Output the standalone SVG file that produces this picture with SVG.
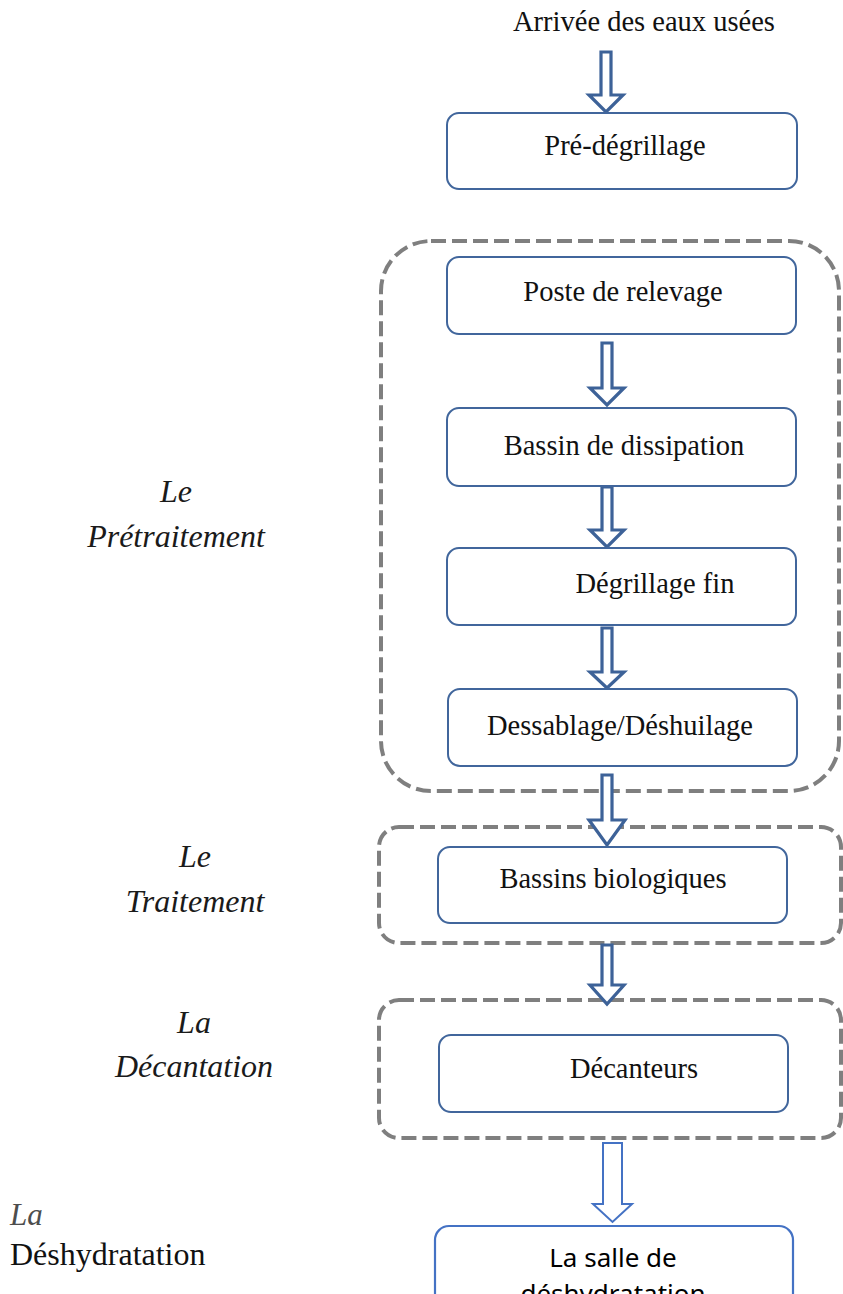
<svg xmlns="http://www.w3.org/2000/svg" width="843" height="1294" viewBox="0 0 843 1294">
<style>
.box{fill:#fff;stroke:#41669c;stroke-width:2}
.box2{fill:#fff;stroke:#4472c4;stroke-width:2.2}
.grp{fill:none;stroke:#7f7f7f;stroke-width:4;stroke-dasharray:15 6}
.arr{fill:#fff;stroke:#3d6298;stroke-width:3.2;stroke-linejoin:miter}
.arr2{fill:#fff;stroke:#4472c4;stroke-width:2}
.t{font-family:"Liberation Serif","Times New Roman",serif;font-size:28.5px;fill:#111;text-anchor:middle}
.lbl{font-family:"Liberation Serif","Times New Roman",serif;font-size:32px;font-style:italic;fill:#1a1a1a;text-anchor:middle}
.s{font-family:"Noto Sans","Open Sans",sans-serif;font-size:26px;fill:#000;text-anchor:middle}
</style>
<rect width="843" height="1294" fill="#fff"/>
<g id="groups">
<rect class="grp" x="381" y="241" width="458" height="550" rx="50"/>
<rect class="grp" x="379" y="827" width="462" height="116" rx="20"/>
<rect class="grp" x="379" y="1000" width="462" height="138" rx="20"/>
</g>
<g id="labels">
<text class="t" x="644" y="31">Arrivée des eaux usées</text>
<text class="lbl" x="176" y="502">Le</text>
<text class="lbl" x="176" y="547">Prétraitement</text>
<text class="lbl" x="195" y="867">Le</text>
<text class="lbl" x="195" y="912">Traitement</text>
<text class="lbl" x="194" y="1033">La</text>
<text class="lbl" x="194" y="1077">Décantation</text>
<text x="10" y="1225" style="font-family:'Liberation Serif','Times New Roman',serif;font-size:31px;font-style:italic;fill:#4d4d4d">La</text>
<text x="10" y="1265" style="font-family:'Liberation Serif','Times New Roman',serif;font-size:32px;fill:#111">Déshydratation</text>
</g>
<g id="connectors">
<path class="arr" d="M601 52H611V95H623L606 112L589 95H601Z"/>
<path class="arr" d="M602 343H612V388H624L607 405L590 388H602Z"/>
<path class="arr" d="M602 487H612V530H624L607 547L590 530H602Z"/>
<path class="arr" d="M602 628H612V672H624L607 688L590 672H602Z"/>
<path class="arr" d="M602 775H612V820H625L607 845L589 820H602Z"/>
<path class="arr" d="M602 945H612V985H624L607 1004L590 985H602Z"/>
<path class="arr2" d="M603 1143H622V1204H632L612.5 1222L593 1204H603Z"/>
</g>
<g id="n-predegrillage">
<rect class="box" x="447" y="113" width="350" height="76" rx="12"/>
<text class="t" x="625" y="155">Pré-dégrillage</text>
</g>
<g id="n-poste">
<rect class="box" x="447" y="257" width="349" height="77" rx="12"/>
<text class="t" x="623" y="301">Poste de relevage</text>
</g>
<g id="n-bassin-dissipation">
<rect class="box" x="447" y="408" width="349" height="78" rx="12"/>
<text class="t" x="624" y="455">Bassin de dissipation</text>
</g>
<g id="n-degrillage-fin">
<rect class="box" x="447" y="548" width="349" height="77" rx="12"/>
<text class="t" x="655" y="593">Dégrillage fin</text>
</g>
<g id="n-dessablage">
<rect class="box" x="448" y="689" width="349" height="77" rx="12"/>
<text class="t" x="620" y="735">Dessablage/Déshuilage</text>
</g>
<g id="n-bassins-bio">
<rect class="box" x="438" y="847" width="349" height="76" rx="12"/>
<text class="t" x="613" y="888">Bassins biologiques</text>
</g>
<g id="n-decanteurs">
<rect class="box" x="439" y="1035" width="349" height="77" rx="12"/>
<text class="t" x="634" y="1078">Décanteurs</text>
</g>
<g id="n-salle">
<rect class="box2" x="435" y="1226" width="358" height="100" rx="14"/>
<text class="s" x="613" y="1267">La salle de</text>
<text class="s" x="613" y="1303">déshydratation</text>
</g>
</svg>
